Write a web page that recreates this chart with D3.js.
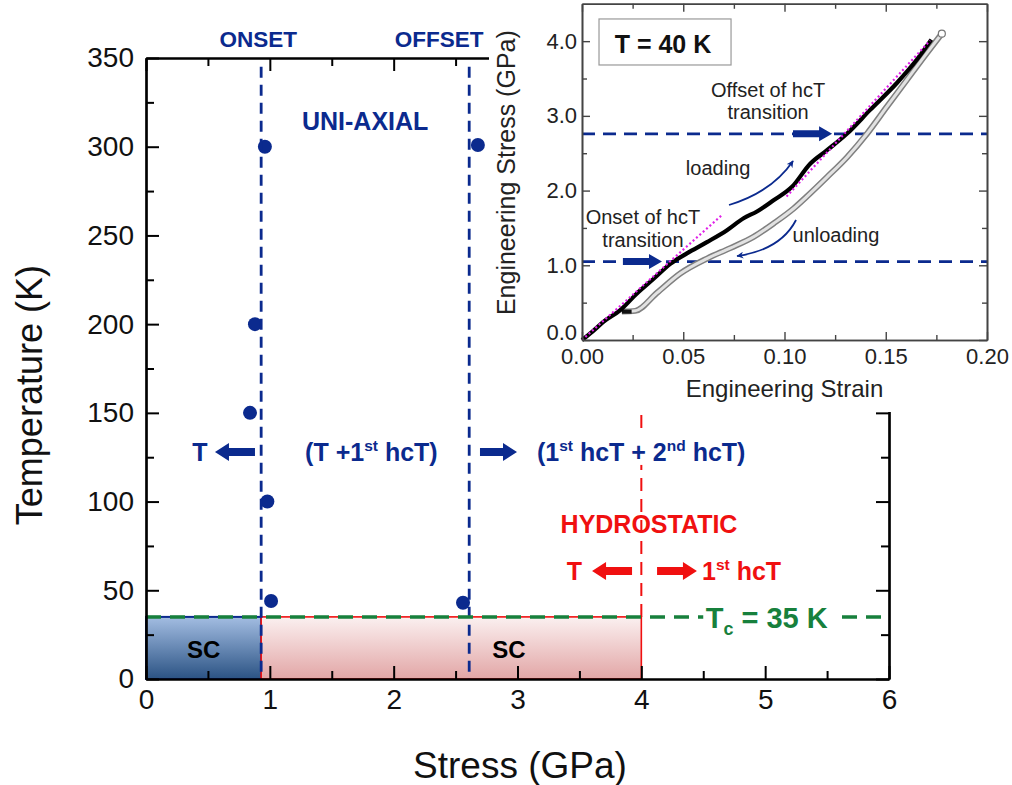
<!DOCTYPE html>
<html>
<head>
<meta charset="utf-8">
<script src="https://cdn.jsdelivr.net/npm/d3@7"></script>
<style>
  html, body { margin: 0; padding: 0; background: #fff; }
  svg { display: block; font-family: "Liberation Sans", Arial, sans-serif; }
</style>
</head>
<body>
<svg id="chart" width="1012" height="785"></svg>
<script>
// ---------- Phase diagram data (main panel) ----------
const onsetStress = [0.96, 0.88, 0.84, 0.98, 1.01];   // GPa
const onsetTemp   = [300, 200, 150, 100, 44];         // K
const offsetStress = [2.68, 2.56];
const offsetTemp   = [301, 43];
const onsetLine = 0.93;       // uni-axial onset boundary (GPa)
const offsetLine = 2.61;      // uni-axial offset boundary (GPa)
const hydroLine = 4.0;        // hydrostatic boundary (GPa)
const hydroTop = 150;         // K, upper end of hydrostatic marker
const Tc = 35;                // K
const xTicks = [0, 1, 2, 3, 4, 5, 6];
const yTicks = [0, 50, 100, 150, 200, 250, 300, 350];

// ---------- Stress-strain curve at 40 K (inset) ----------
const loadStrain = [0, 0.005, 0.0107, 0.0189, 0.027, 0.0354, 0.0436, 0.0518, 0.0617, 0.0716, 0.0798, 0.0864, 0.0946, 0.1037, 0.1127, 0.121, 0.1308, 0.1423, 0.1555, 0.1653, 0.1725];
const loadStress = [0, 0.11, 0.245, 0.40, 0.62, 0.82, 1.02, 1.16, 1.31, 1.47, 1.63, 1.72, 1.87, 2.05, 2.36, 2.54, 2.76, 3.08, 3.44, 3.75, 4.02];
const unloadStrain = [0.1777, 0.1703, 0.1604, 0.1505, 0.1407, 0.131, 0.121, 0.111, 0.1045, 0.0946, 0.0847, 0.0732, 0.0617, 0.0485, 0.037, 0.0263, 0.0197];
const unloadStress = [4.1, 3.84, 3.48, 3.12, 2.76, 2.45, 2.18, 1.92, 1.76, 1.56, 1.38, 1.23, 1.09, 0.89, 0.63, 0.39, 0.38];
const fitLowStrain = [0, 0.069],    fitLowStress = [0, 1.67];
const fitHighStrain = [0.101, 0.1719], fitHighStress = [1.92, 4.01];
const onsetHcT = 1.05;   // GPa
const offsetHcT = 2.76;  // GPa
const insetXTicks = [0, 0.05, 0.10, 0.15, 0.20];
const insetYTicks = [0, 1, 2, 3, 4];

const NAVY = "#0b2a8e", RED = "#f01010", GREEN = "#17803c";
const svg = d3.select("#chart");

// ---------- scales ----------
const x = d3.scaleLinear().domain([0, 6]).range([146, 889]);
const y = d3.scaleLinear().domain([0, 350]).range([679, 58]);
const xi = d3.scaleLinear().domain([0, 0.2]).range([582, 987]);
const yi = d3.scaleLinear().domain([0, 4.5]).range([340, 3.8]);

// ---------- gradients ----------
const defs = svg.append("defs");
function vGrad(id, top, bottom) {
  const g = defs.append("linearGradient").attr("id", id).attr("x1", 0).attr("y1", 0).attr("x2", 0).attr("y2", 1);
  g.append("stop").attr("offset", "0%").attr("stop-color", top);
  g.append("stop").attr("offset", "100%").attr("stop-color", bottom);
}
vGrad("scBlue", "#a3bde2", "#2b5384");
vGrad("scPink", "#fbf0f0", "#e2a6a6");
defs.append("marker").attr("id", "thinHead").attr("viewBox", "0 0 10 10")
  .attr("refX", 9).attr("refY", 5).attr("markerWidth", 7).attr("markerHeight", 7)
  .attr("markerUnits", "userSpaceOnUse").attr("orient", "auto")
  .append("path").attr("d", "M0,0 L10,5 L0,10 L3,5 Z").attr("fill", NAVY);

// ---------- helpers ----------
function richText(g, px, py, parts, o) {
  const fs = o.size;
  const t = g.append("text").attr("x", px).attr("y", py)
    .attr("font-size", fs).attr("font-weight", o.weight || "normal")
    .attr("fill", o.fill || "#000").attr("text-anchor", o.anchor || "start");
  let shift = 0;
  parts.forEach(p => {
    const target = p.sup ? -0.38 * fs : (p.sub ? 0.25 * fs : 0);
    const ts = t.append("tspan").attr("dy", target - shift).text(p.t);
    if (p.sup || p.sub) ts.attr("font-size", fs * 0.62);
    shift = target;
  });
  return t;
}
function blockArrow(g, x0, x1, yc, shaftH, headH, headL, fill) {
  const d = x1 > x0 ? 1 : -1;
  const xh = x1 - d * headL;
  const pts = [[x0, yc - shaftH], [xh, yc - shaftH], [xh, yc - headH], [x1, yc],
               [xh, yc + headH], [xh, yc + shaftH], [x0, yc + shaftH]];
  g.append("polygon").attr("points", pts.map(p => p.join(",")).join(" ")).attr("fill", fill);
}

// ================= MAIN PANEL =================
const main = svg.append("g");

// superconducting regions
main.append("rect").attr("x", x(0)).attr("y", y(Tc)).attr("width", x(onsetLine) - x(0))
  .attr("height", y(0) - y(Tc)).attr("fill", "url(#scBlue)")
  .attr("stroke", NAVY).attr("stroke-width", 2);
main.append("rect").attr("x", x(onsetLine)).attr("y", y(Tc)).attr("width", x(hydroLine) - x(onsetLine))
  .attr("height", y(0) - y(Tc)).attr("fill", "url(#scPink)")
  .attr("stroke", RED).attr("stroke-width", 1.6);

// hydrostatic boundary
main.append("line").attr("x1", x(hydroLine)).attr("x2", x(hydroLine))
  .attr("y1", y(Tc)).attr("y2", y(hydroTop))
  .attr("stroke", RED).attr("stroke-width", 2).attr("stroke-dasharray", "13,8");

// data points
const pts = onsetStress.map((s, i) => [s, onsetTemp[i]])
  .concat(offsetStress.map((s, i) => [s, offsetTemp[i]]));
main.selectAll("circle.pt").data(pts).enter().append("circle")
  .attr("cx", d => x(d[0])).attr("cy", d => y(d[1])).attr("r", 7).attr("fill", NAVY);

// uni-axial onset / offset boundaries
[onsetLine, offsetLine].forEach(v => {
  main.append("line").attr("x1", x(v)).attr("x2", x(v)).attr("y1", y(345)).attr("y2", y(0))
    .attr("stroke", NAVY).attr("stroke-width", 2.8).attr("stroke-dasharray", "11,7");
});

// Tc line
main.append("line").attr("x1", x(0)).attr("x2", x(6)).attr("y1", y(Tc)).attr("y2", y(Tc))
  .attr("stroke", GREEN).attr("stroke-width", 3.5).attr("stroke-dasharray", "15,9");

// axes
function styleAxis(g, fs) {
  g.select(".domain").attr("stroke", "#000").attr("stroke-width", 2.2);
  g.selectAll(".tick line").attr("stroke", "#000").attr("stroke-width", 2);
  g.selectAll(".tick text").attr("font-size", fs).attr("fill", "#111")
    .attr("font-family", "'Liberation Sans', Arial, sans-serif");
}
const minorX = d3.range(0.5, 6, 1), minorY = d3.range(25, 350, 50);
const gB = main.append("g").attr("transform", `translate(0,${y(0)})`)
  .call(d3.axisBottom(x).tickValues(xTicks).tickFormat(d3.format("d")).tickSizeInner(-13).tickSizeOuter(0).tickPadding(10));
styleAxis(gB, 28);
main.append("g").attr("transform", `translate(0,${y(0)})`)
  .call(d3.axisBottom(x).tickValues(minorX).tickFormat("").tickSizeInner(-8).tickSizeOuter(0))
  .call(g => styleAxis(g, 28));
const gL = main.append("g").attr("transform", `translate(${x(0)},0)`)
  .call(d3.axisLeft(y).tickValues(yTicks).tickFormat(d3.format("d")).tickSizeInner(-13).tickSizeOuter(0).tickPadding(12));
styleAxis(gL, 28);
main.append("g").attr("transform", `translate(${x(0)},0)`)
  .call(d3.axisLeft(y).tickValues(minorY).tickFormat("").tickSizeInner(-8).tickSizeOuter(0))
  .call(g => styleAxis(g, 28));
main.append("g").attr("transform", `translate(0,${y(350)})`)
  .call(d3.axisTop(x).tickValues(xTicks).tickFormat("").tickSizeInner(-13).tickSizeOuter(0))
  .call(g => styleAxis(g, 28));
main.append("g").attr("transform", `translate(0,${y(350)})`)
  .call(d3.axisTop(x).tickValues(minorX).tickFormat("").tickSizeInner(-8).tickSizeOuter(0))
  .call(g => styleAxis(g, 28));
main.append("g").attr("transform", `translate(${x(6)},0)`)
  .call(d3.axisRight(y).tickValues(yTicks).tickFormat("").tickSizeInner(-13).tickSizeOuter(0))
  .call(g => styleAxis(g, 28));
main.append("g").attr("transform", `translate(${x(6)},0)`)
  .call(d3.axisRight(y).tickValues(minorY).tickFormat("").tickSizeInner(-8).tickSizeOuter(0))
  .call(g => styleAxis(g, 28));

// axis titles
main.append("text").attr("transform", `translate(42,${y(160)}) rotate(-90)`)
  .attr("text-anchor", "middle").attr("font-size", 36).attr("fill", "#111").text("Temperature (K)");
main.append("text").attr("x", x(3.02)).attr("y", 778).attr("text-anchor", "middle")
  .attr("font-size", 37).attr("fill", "#111").text("Stress (GPa)");

// annotations
main.append("text").attr("x", x(onsetLine) - 3).attr("y", y(350) - 11).attr("text-anchor", "middle")
  .attr("font-size", 22.5).attr("font-weight", "bold").attr("fill", NAVY).text("ONSET");
main.append("text").attr("x", x(offsetLine) - 30).attr("y", y(350) - 11).attr("text-anchor", "middle")
  .attr("font-size", 22.5).attr("font-weight", "bold").attr("fill", NAVY).text("OFFSET");
main.append("text").attr("x", x(1.77)).attr("y", y(309.4)).attr("text-anchor", "middle")
  .attr("font-size", 25).attr("font-weight", "bold").attr("fill", NAVY).text("UNI-AXIAL");

const rowT = 122.9;
main.append("text").attr("x", x(0.436)).attr("y", y(rowT)).attr("text-anchor", "middle")
  .attr("font-size", 25).attr("font-weight", "bold").attr("fill", NAVY).text("T");
blockArrow(main, x(0.88), x(0.557), y(rowT) - 9, 4, 9, 14, NAVY);
richText(main, x(1.82), y(rowT), [{ t: "(T +1" }, { t: "st", sup: true }, { t: " hcT)" }],
  { size: 25, weight: "bold", fill: NAVY, anchor: "middle" });
blockArrow(main, x(2.697), x(2.996), y(rowT) - 9, 4, 9, 14, NAVY);
// knock-out behind the right-hand label
main.append("rect").attr("x", x(3.9)).attr("y", y(rowT) - 26).attr("width", x(4.1) - x(3.9))
  .attr("height", 30).attr("fill", "#fff");
richText(main, x(3.157), y(rowT), [{ t: "(1" }, { t: "st", sup: true }, { t: " hcT + 2" }, { t: "nd", sup: true }, { t: " hcT)" }],
  { size: 25, weight: "bold", fill: NAVY, anchor: "start" });

main.append("text").attr("x", x(4.062)).attr("y", y(82.3)).attr("text-anchor", "middle")
  .attr("font-size", 25).attr("font-weight", "bold").attr("fill", RED).text("HYDROSTATIC");
const rowR = 55.8;
main.append("text").attr("x", x(3.46)).attr("y", y(rowR)).attr("text-anchor", "middle")
  .attr("font-size", 25).attr("font-weight", "bold").attr("fill", RED).text("T");
blockArrow(main, x(3.925), x(3.602), y(rowR) - 9, 4, 9, 14, RED);
blockArrow(main, x(4.127), x(4.449), y(rowR) - 9, 4, 9, 14, RED);
richText(main, x(4.49), y(rowR), [{ t: "1" }, { t: "st", sup: true }, { t: " hcT" }],
  { size: 25, weight: "bold", fill: RED, anchor: "start" });

// Tc label with white knock-out
main.append("rect").attr("x", x(4.5)).attr("y", y(Tc) - 14).attr("width", x(5.6) - x(4.5))
  .attr("height", 28).attr("fill", "#fff");
richText(main, x(4.52), y(Tc) + 11, [{ t: "T" }, { t: "c", sub: true }, { t: " = 35 K" }],
  { size: 29, weight: "bold", fill: GREEN, anchor: "start" });

main.append("text").attr("x", x(onsetLine / 2)).attr("y", y(11.8)).attr("text-anchor", "middle")
  .attr("font-size", 24).attr("font-weight", "bold").attr("fill", "#000").text("SC");
main.append("text").attr("x", x(2.93)).attr("y", y(11.8)).attr("text-anchor", "middle")
  .attr("font-size", 24).attr("font-weight", "bold").attr("fill", "#000").text("SC");

// ================= INSET =================
svg.append("rect").attr("x", 489).attr("y", 0).attr("width", 523).attr("height", 412).attr("fill", "#fff");
const ins = svg.append("g");

// transition markers
[onsetHcT, offsetHcT].forEach(v => {
  ins.append("line").attr("x1", xi(0)).attr("x2", xi(0.2)).attr("y1", yi(v)).attr("y2", yi(v))
    .attr("stroke", NAVY).attr("stroke-width", 2.8).attr("stroke-dasharray", "13,8");
});

// unloading curve (open symbols)
const lineM = d3.line().x(d => xi(d[0])).y(d => yi(d[1])).curve(d3.curveMonotoneX);
const unl = unloadStrain.map((s, i) => [s, unloadStress[i]]).reverse();
ins.append("path").attr("d", lineM(unl)).attr("fill", "none").attr("stroke", "#808080").attr("stroke-width", 6)
  .attr("stroke-linejoin", "round");
ins.append("path").attr("d", lineM(unl)).attr("fill", "none").attr("stroke", "#e2e2e2").attr("stroke-width", 3)
  .attr("stroke-linejoin", "round");
ins.append("circle").attr("cx", xi(unloadStrain[0])).attr("cy", yi(unloadStress[0])).attr("r", 3.5)
  .attr("fill", "#fff").attr("stroke", "#777").attr("stroke-width", 1.2);
ins.append("line").attr("x1", xi(0.0197)).attr("x2", xi(0.0245)).attr("y1", yi(0.38)).attr("y2", yi(0.38))
  .attr("stroke", "#111").attr("stroke-width", 4);

// loading curve
const ld = loadStrain.map((s, i) => [s, loadStress[i]]);
ins.append("path").attr("d", lineM(ld)).attr("fill", "none").attr("stroke", "#000").attr("stroke-width", 4.2)
  .attr("stroke-linejoin", "round");

// linear fits
[[fitLowStrain, fitLowStress], [fitHighStrain, fitHighStress]].forEach(([sx, sy]) => {
  ins.append("line").attr("x1", xi(sx[0])).attr("y1", yi(sy[0])).attr("x2", xi(sx[1])).attr("y2", yi(sy[1]))
    .attr("stroke", "#e020e8").attr("stroke-width", 2.2).attr("stroke-dasharray", "2,2.5");
});

// thick transition arrows
blockArrow(ins, xi(0.0202), xi(0.0395), yi(onsetHcT), 3.5, 7.5, 13, NAVY);
blockArrow(ins, xi(0.1042), xi(0.1235), yi(offsetHcT), 3.5, 7.5, 13, NAVY);

// loading / unloading arrows
ins.append("path").attr("d", `M${xi(0.0726)},${yi(1.807)} Q${xi(0.0938)},${yi(1.981)} ${xi(0.1042)},${yi(2.396)}`)
  .attr("fill", "none").attr("stroke", NAVY).attr("stroke-width", 1.8).attr("marker-end", "url(#thinHead)");
ins.append("path").attr("d", `M${xi(0.1057)},${yi(1.606)} Q${xi(0.098)},${yi(1.205)} ${xi(0.0766)},${yi(1.124)}`)
  .attr("fill", "none").attr("stroke", NAVY).attr("stroke-width", 1.8).attr("marker-end", "url(#thinHead)");

// inset frame and ticks
function styleInset(g) {
  g.select(".domain").attr("stroke", "#444").attr("stroke-width", 1.6);
  g.selectAll(".tick line").attr("stroke", "#444").attr("stroke-width", 1.4);
  g.selectAll(".tick text").attr("font-size", 22).attr("fill", "#222")
    .attr("font-family", "'Liberation Sans', Arial, sans-serif");
}
const iMinX = d3.range(0.025, 0.2, 0.05), iMinY = d3.range(0.5, 4.5, 1);
ins.append("g").attr("transform", `translate(0,${yi(0)})`)
  .call(d3.axisBottom(xi).tickValues(insetXTicks).tickFormat(d3.format(".2f")).tickSizeInner(-8).tickSizeOuter(0).tickPadding(8))
  .call(styleInset);
ins.append("g").attr("transform", `translate(0,${yi(0)})`)
  .call(d3.axisBottom(xi).tickValues(iMinX).tickFormat("").tickSizeInner(-5).tickSizeOuter(0)).call(styleInset);
ins.append("g").attr("transform", `translate(${xi(0)},0)`)
  .call(d3.axisLeft(yi).tickValues(insetYTicks).tickFormat(d3.format(".1f")).tickSizeInner(-8).tickSizeOuter(0).tickPadding(5))
  .call(styleInset)
  .call(g => g.selectAll(".tick text").attr("dy", d => d === 0 ? "-0.02em" : "0.32em"));
ins.append("g").attr("transform", `translate(${xi(0)},0)`)
  .call(d3.axisLeft(yi).tickValues(iMinY).tickFormat("").tickSizeInner(-5).tickSizeOuter(0)).call(styleInset);
ins.append("g").attr("transform", `translate(0,${yi(4.5)})`)
  .call(d3.axisTop(xi).tickValues(insetXTicks).tickFormat("").tickSizeInner(-8).tickSizeOuter(0)).call(styleInset);
ins.append("g").attr("transform", `translate(0,${yi(4.5)})`)
  .call(d3.axisTop(xi).tickValues(iMinX).tickFormat("").tickSizeInner(-5).tickSizeOuter(0)).call(styleInset);
ins.append("g").attr("transform", `translate(${xi(0.2)},0)`)
  .call(d3.axisRight(yi).tickValues(insetYTicks).tickFormat("").tickSizeInner(-8).tickSizeOuter(0)).call(styleInset);
ins.append("g").attr("transform", `translate(${xi(0.2)},0)`)
  .call(d3.axisRight(yi).tickValues(iMinY).tickFormat("").tickSizeInner(-5).tickSizeOuter(0)).call(styleInset);

// inset titles
ins.append("text").attr("transform", `translate(515,${yi(2.24)}) rotate(-90)`).attr("text-anchor", "middle")
  .attr("font-size", 25).attr("fill", "#222").text("Engineering Stress (GPa)");
ins.append("text").attr("x", xi(0.1)).attr("y", 397).attr("text-anchor", "middle")
  .attr("font-size", 24).attr("fill", "#222").text("Engineering Strain");

// temperature tag
ins.append("rect").attr("x", xi(0.0084)).attr("y", yi(4.297)).attr("width", xi(0.0736) - xi(0.0084))
  .attr("height", yi(3.681) - yi(4.297)).attr("fill", "#fff").attr("stroke", "#999").attr("stroke-width", 1.2);
ins.append("text").attr("x", xi(0.04)).attr("y", yi(3.842)).attr("text-anchor", "middle")
  .attr("font-size", 25).attr("font-weight", "bold").attr("fill", "#111").text("T = 40 K");

// inset annotations
const note = (sx, sy, txt) => ins.append("text").attr("x", xi(sx)).attr("y", yi(sy)).attr("text-anchor", "middle")
  .attr("font-size", 20).attr("fill", "#222").text(txt);
note(0.0919, 3.253, "Offset of hcT");
note(0.0919, 2.958, "transition");
note(0.0672, 2.209, "loading");
note(0.0301, 1.553, "Onset of hcT");
note(0.0301, 1.245, "transition");
note(0.1254, 1.312, "unloading");
</script>
</body>
</html>
